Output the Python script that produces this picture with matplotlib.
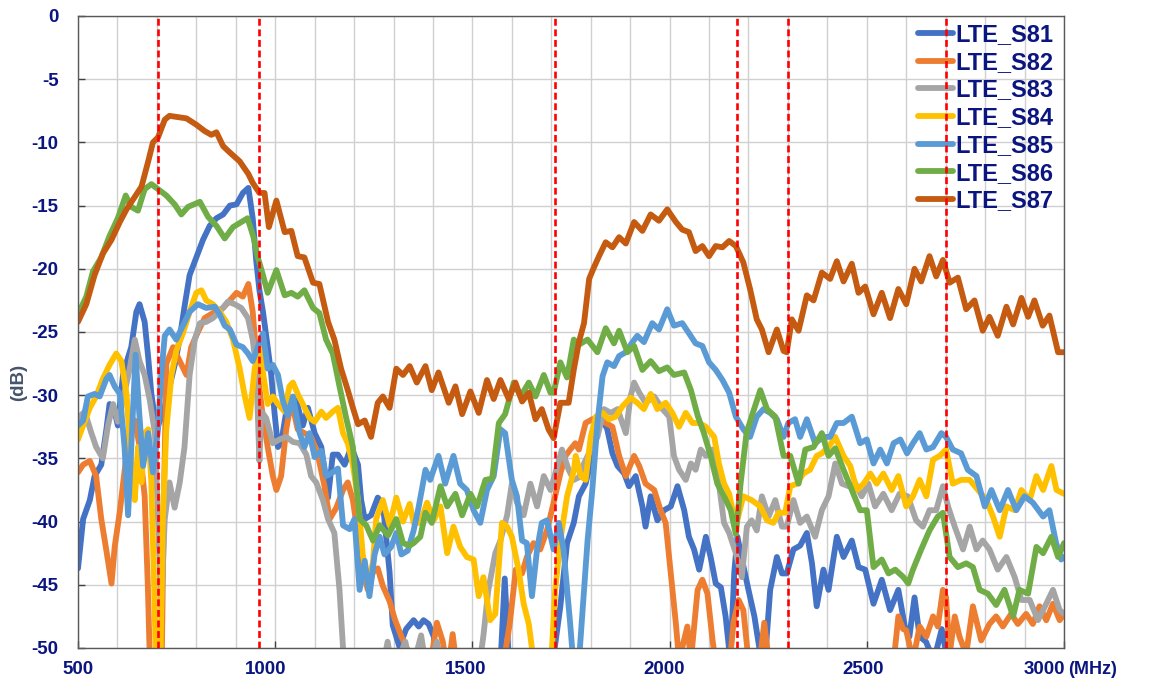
import matplotlib
matplotlib.use("Agg")
import matplotlib.pyplot as plt
from matplotlib.transforms import ScaledTranslation

plt.rcParams["font.family"] = ["Liberation Sans", "DejaVu Sans"]
plt.rcParams["font.weight"] = "bold"
plt.rcParams["axes.unicode_minus"] = False

# =========================
# Input data (MHz, dB)
# =========================

s81 = [(500, -43.7), (513, -39.8), (530, -38.3), (542, -36.4), (559, -35.5), (572, -32.7),
       (580, -30.7), (593, -31.3), (601, -32.4), (614, -28.4), (627, -27.0), (635, -26.2),
       (648, -23.4), (656, -22.8), (669, -24.2), (678, -27.0), (686, -29.9), (699, -32.7),
       (715, -31.5), (733, -29.2), (746, -27.5), (758, -25.5), (770, -23.0), (783, -20.5),
       (800, -19.1), (817, -17.7), (834, -16.6), (851, -16.0), (868, -15.7), (885, -15.0),
       (902, -14.9), (918, -14.0), (932, -13.6), (943, -16.0), (952, -19.4), (960, -21.7),
       (969, -23.4), (981, -26.2), (990, -28.4), (998, -31.3), (1007, -34.1), (1015, -33.8),
       (1028, -31.3), (1041, -30.7), (1053, -30.4), (1070, -32.4), (1083, -31.0), (1100, -33.0),
       (1117, -34.1), (1134, -38.1), (1146, -34.7), (1159, -34.7), (1176, -35.5), (1193, -34.1),
       (1210, -35.5), (1218, -38.3), (1227, -39.8), (1243, -39.5), (1260, -38.1), (1273, -38.6),
       (1290, -44.0), (1298, -48.2), (1315, -49.9), (1332, -48.5), (1351, -47.8), (1364, -48.3),
       (1376, -47.8), (1389, -48.1), (1402, -49.1), (1412, -52), (1570, -52), (1582, -44.5),
       (1594, -52), (1700, -52), (1723, -46.7), (1740, -41.7), (1757, -40.1), (1770, -38.0),
       (1787, -37.0), (1804, -34.8), (1817, -32.7), (1830, -31.9), (1842, -32.7), (1855, -34.6),
       (1868, -35.6), (1885, -36.2), (1897, -37.2), (1914, -36.4), (1931, -38.8), (1939, -40.4),
       (1952, -38.0), (1969, -39.9), (1986, -39.1), (2003, -38.8), (2020, -37.2), (2037, -39.1),
       (2049, -41.2), (2062, -42.2), (2075, -43.8), (2092, -41.2), (2104, -42.8), (2117, -44.9),
       (2130, -45.2), (2142, -47.5), (2154, -51), (2164, -44.0), (2172, -41.2), (2187, -43.5),
       (2200, -45.4), (2215, -47.5), (2230, -50.5), (2242, -51), (2255, -45.4), (2272, -42.8),
       (2285, -44.1), (2297, -44.1), (2314, -42.2), (2331, -41.9), (2348, -40.9), (2361, -43.3),
       (2373, -46.7), (2390, -43.8), (2403, -45.4), (2424, -41.2), (2441, -42.8), (2462, -41.5),
       (2479, -43.6), (2496, -43.8), (2517, -46.5), (2538, -44.6), (2559, -47.0), (2580, -45.4),
       (2597, -48.4), (2608, -49.1), (2621, -46.0), (2634, -49.1), (2650, -49.5), (2670, -51),
       (2690, -48.5), (2705, -51), (2720, -55), (3000, -55)]

s82 = [(500, -36.1), (513, -35.5), (530, -35.2), (546, -36.4), (559, -39.8), (572, -42.3),
       (585, -44.9), (593, -42.0), (606, -39.2), (618, -36.0), (631, -33.0), (644, -32.0),
       (656, -34.0), (669, -38.0), (677, -45.0), (683, -52), (700, -55), (712, -52),
       (718, -38.0), (724, -27.5), (741, -26.2), (758, -27.3), (775, -28.4), (787, -26.2),
       (804, -25.0), (821, -23.9), (842, -23.5), (868, -23.1), (885, -22.5), (902, -21.9),
       (918, -22.2), (932, -21.2), (943, -23.4), (956, -28.4), (969, -31.8), (981, -34.1),
       (994, -36.4), (1003, -37.5), (1015, -36.4), (1028, -32.7), (1041, -30.4), (1057, -32.7),
       (1074, -33.0), (1091, -33.3), (1108, -34.7), (1125, -37.2), (1138, -39.8), (1155, -38.9),
       (1172, -37.5), (1184, -36.9), (1197, -38.3), (1210, -41.1), (1222, -44.0), (1235, -45.4),
       (1248, -44.0), (1260, -43.7), (1273, -45.1), (1290, -46.3), (1303, -47.7), (1320, -49.1),
       (1341, -50.5), (1360, -52), (1395, -51), (1410, -48.0), (1425, -49.5), (1437, -52),
       (1450, -48.9), (1462, -52), (1575, -52), (1595, -48.0), (1610, -43.8), (1626, -44.1),
       (1638, -42.8), (1655, -41.7), (1672, -42.2), (1689, -40.7), (1706, -38.5), (1723, -36.2),
       (1736, -34.8), (1748, -34.3), (1761, -33.8), (1770, -34.3), (1787, -32.2), (1804, -31.9),
       (1821, -31.9), (1838, -32.2), (1855, -32.5), (1872, -34.8), (1889, -36.4), (1910, -34.8),
       (1923, -35.6), (1939, -37.0), (1961, -37.5), (1977, -39.1), (1990, -40.1), (2003, -44.1),
       (2016, -48.1), (2024, -51), (2045, -48.3), (2054, -51), (2071, -45.4), (2083, -44.6),
       (2096, -45.7), (2109, -49.4), (2120, -52), (2150, -52), (2162, -48.0), (2175, -46.2),
       (2187, -47.0), (2200, -51), (2225, -52), (2240, -48.0), (2255, -52), (2565, -52),
       (2580, -47.5), (2592, -48.5), (2600, -48.6), (2617, -51), (2634, -48.3), (2651, -49.1),
       (2668, -47.5), (2680, -48.3), (2693, -45.4), (2701, -46.0), (2710, -50.5), (2723, -47.5),
       (2735, -49.1), (2752, -50.5), (2769, -46.7), (2790, -49.4), (2811, -48.1), (2828, -47.5),
       (2845, -48.3), (2866, -47.3), (2883, -48.1), (2904, -47.3), (2921, -48.1), (2938, -46.7),
       (2955, -47.8), (2972, -46.5), (2989, -47.8), (3000, -47.3)]

s83 = [(500, -31.8), (517, -31.3), (534, -33.0), (546, -34.1), (563, -35.0), (576, -32.4),
       (589, -30.7), (601, -32.1), (614, -30.4), (631, -27.9), (644, -25.6), (656, -27.3),
       (669, -28.4), (682, -30.4), (695, -33.0), (703, -39.8), (711, -46.8), (720, -39.8),
       (732, -36.9), (745, -38.9), (758, -36.9), (770, -34.1), (783, -28.4), (796, -25.6),
       (809, -24.3), (825, -24.2), (842, -23.9), (859, -23.4), (880, -22.6), (897, -22.8),
       (914, -23.1), (931, -23.9), (943, -25.6), (952, -27.9), (960, -35.2), (965, -31.3),
       (977, -31.8), (994, -33.8), (1011, -33.5), (1028, -33.3), (1045, -33.7), (1062, -33.8),
       (1079, -34.7), (1091, -36.4), (1104, -36.9), (1121, -38.3), (1134, -39.8), (1150, -40.9),
       (1163, -45.4), (1172, -50), (1180, -52), (1270, -52), (1285, -49.5), (1298, -52),
       (1330, -49.5), (1345, -52), (1370, -49.0), (1385, -52), (1410, -49.5), (1425, -52),
       (1515, -52), (1528, -49.0), (1540, -45.5), (1558, -42.5), (1571, -41.5), (1588, -39.5),
       (1600, -37.0), (1613, -38.5), (1630, -39.5), (1647, -37.0), (1664, -38.8), (1681, -36.4),
       (1698, -37.5), (1710, -36.2), (1727, -34.3), (1744, -35.9), (1757, -36.7), (1770, -36.5),
       (1783, -35.4), (1800, -34.3), (1817, -33.3), (1834, -31.1), (1851, -31.4), (1868, -31.1),
       (1889, -33.0), (1901, -30.1), (1910, -29.0), (1923, -29.8), (1939, -30.6), (1961, -30.1),
       (1982, -31.1), (1999, -31.7), (2011, -34.8), (2024, -35.9), (2041, -36.7), (2054, -35.4),
       (2066, -35.9), (2079, -34.3), (2092, -34.8), (2109, -34.3), (2125, -37.0), (2138, -40.1),
       (2151, -40.9), (2168, -42.5), (2183, -44.4), (2196, -40.4), (2208, -39.9), (2221, -40.7),
       (2234, -38.0), (2251, -39.6), (2268, -38.3), (2285, -40.4), (2297, -40.4), (2314, -38.3),
       (2331, -40.1), (2348, -39.6), (2369, -41.2), (2386, -39.1), (2403, -38.0), (2420, -35.4),
       (2437, -37.0), (2454, -37.2), (2471, -37.0), (2487, -38.0), (2504, -37.0), (2521, -38.8),
       (2542, -37.8), (2563, -39.1), (2583, -37.8), (2604, -38.0), (2625, -39.9), (2642, -40.4),
       (2659, -39.1), (2676, -39.1), (2693, -37.2), (2706, -38.8), (2723, -40.4), (2744, -42.2),
       (2761, -40.4), (2778, -42.2), (2794, -41.5), (2811, -42.2), (2832, -43.8), (2854, -42.8),
       (2875, -44.4), (2892, -46.2), (2913, -46.2), (2934, -47.8), (2955, -46.5), (2972, -45.4),
       (2989, -47.0), (3000, -47.3)]

s84 = [(500, -33.5), (513, -32.4), (530, -31.0), (546, -30.1), (563, -28.7), (580, -27.6),
       (597, -26.7), (610, -27.3), (623, -29.9), (635, -35.5), (644, -38.3), (652, -34.1),
       (661, -36.9), (669, -33.0), (678, -32.7), (686, -36.9), (693, -45.0), (699, -53),
       (708, -53), (715, -39.8), (724, -32.7), (737, -28.4), (749, -26.5), (766, -25.1),
       (783, -23.4), (800, -21.9), (813, -21.7), (825, -22.5), (842, -22.8), (859, -23.4),
       (876, -24.2), (893, -25.6), (910, -27.9), (923, -30.1), (935, -31.8), (948, -27.9),
       (960, -26.2), (969, -28.2), (981, -30.7), (994, -30.1), (1007, -30.7), (1024, -31.3),
       (1036, -29.3), (1045, -29.0), (1057, -29.9), (1070, -30.7), (1087, -31.8), (1100, -32.1),
       (1117, -31.3), (1129, -31.8), (1146, -31.3), (1159, -31.0), (1172, -33.0), (1184, -33.8),
       (1197, -35.5), (1210, -38.3), (1222, -42.6), (1235, -44.9), (1248, -43.2), (1256, -39.8),
       (1273, -38.3), (1290, -40.3), (1307, -38.1), (1324, -40.0), (1341, -38.6), (1351, -40.1),
       (1368, -40.1), (1385, -38.5), (1402, -39.9), (1419, -38.8), (1436, -42.5), (1452, -40.4),
       (1469, -42.0), (1486, -42.8), (1503, -43.0), (1516, -45.9), (1528, -44.4), (1545, -47.8),
       (1558, -47.3), (1575, -40.1), (1588, -40.4), (1600, -41.2), (1617, -43.8), (1630, -46.5),
       (1643, -48.1), (1655, -51), (1690, -53), (1700, -51), (1710, -45.4), (1723, -41.5),
       (1740, -38.0), (1757, -36.0), (1762, -34.8), (1775, -36.4), (1787, -36.7), (1800, -33.3),
       (1813, -31.7), (1830, -31.4), (1846, -31.9), (1863, -31.7), (1880, -30.9), (1901, -30.2),
       (1918, -30.6), (1935, -31.1), (1952, -29.9), (1969, -31.1), (1990, -30.6), (2007, -31.4),
       (2024, -32.5), (2041, -31.4), (2058, -32.2), (2075, -32.2), (2092, -32.5), (2113, -33.3),
       (2125, -35.4), (2138, -37.0), (2151, -37.8), (2168, -40.3), (2187, -38.0), (2208, -38.3),
       (2230, -38.8), (2247, -39.9), (2263, -40.1), (2276, -39.3), (2293, -39.3), (2306, -37.2),
       (2323, -37.0), (2339, -36.2), (2356, -35.9), (2373, -34.8), (2386, -34.6), (2403, -34.1),
       (2420, -33.3), (2441, -34.8), (2458, -35.6), (2475, -37.5), (2492, -37.0), (2509, -36.2),
       (2525, -37.0), (2542, -36.2), (2563, -37.5), (2580, -36.4), (2600, -38.8), (2617, -38.0),
       (2634, -36.7), (2651, -38.0), (2668, -35.1), (2685, -34.8), (2701, -34.3), (2718, -37.0),
       (2739, -36.7), (2761, -36.7), (2782, -37.5), (2803, -38.3), (2820, -39.6), (2837, -41.2),
       (2854, -38.8), (2875, -39.1), (2892, -37.5), (2913, -38.3), (2930, -36.4), (2947, -37.5),
       (2968, -35.6), (2981, -37.5), (3000, -37.8)]

s85 = [(500, -32.4), (513, -32.0), (525, -30.1), (542, -29.9), (555, -30.1), (572, -28.7),
       (580, -28.4), (593, -29.3), (606, -29.9), (618, -34.1), (627, -39.5), (635, -34.1),
       (646, -26.8), (655, -31.3), (665, -35.6), (678, -33.0), (690, -36.1), (703, -32.7),
       (711, -28.4), (720, -25.3), (732, -24.8), (749, -25.6), (766, -24.5), (783, -23.4),
       (804, -22.8), (825, -23.1), (847, -23.0), (859, -23.6), (872, -24.5), (885, -24.8),
       (902, -26.0), (918, -26.2), (931, -26.7), (943, -27.3), (956, -26.2), (969, -25.1),
       (981, -27.9), (994, -27.6), (1007, -28.4), (1019, -30.4), (1032, -31.6), (1045, -30.1),
       (1062, -33.0), (1074, -34.1), (1087, -33.0), (1100, -34.9), (1117, -34.4), (1129, -36.4),
       (1146, -36.1), (1159, -35.8), (1172, -40.3), (1189, -40.6), (1201, -39.8), (1214, -45.4),
       (1227, -43.1), (1239, -45.9), (1252, -42.6), (1265, -41.2), (1277, -42.6), (1294, -42.0),
       (1307, -40.9), (1320, -42.6), (1336, -42.3), (1351, -40.7), (1364, -38.8), (1381, -35.9),
       (1393, -36.7), (1414, -34.8), (1431, -37.0), (1452, -34.8), (1469, -37.0), (1486, -37.5),
       (1503, -39.1), (1520, -40.1), (1537, -37.5), (1554, -36.4), (1571, -32.7), (1583, -33.0),
       (1600, -36.7), (1613, -38.0), (1626, -41.5), (1638, -41.7), (1651, -45.9), (1664, -42.2),
       (1676, -40.1), (1689, -39.9), (1706, -42.2), (1719, -40.1), (1731, -42.2), (1748, -48.1),
       (1758, -52), (1768, -52), (1783, -45.4), (1792, -41.5), (1804, -37.5), (1817, -32.2),
       (1830, -28.5), (1842, -27.4), (1859, -27.7), (1872, -26.9), (1889, -26.6), (1906, -25.8),
       (1918, -25.3), (1935, -25.8), (1956, -24.3), (1973, -24.8), (1994, -23.2), (2011, -24.5),
       (2032, -24.3), (2049, -25.1), (2066, -25.9), (2083, -26.1), (2100, -27.4), (2117, -28.0),
       (2134, -28.8), (2151, -29.8), (2168, -31.7), (2187, -32.7), (2204, -33.3), (2221, -31.7),
       (2238, -31.1), (2255, -31.4), (2272, -31.9), (2289, -33.3), (2301, -32.2), (2318, -31.9),
       (2331, -33.3), (2348, -31.9), (2369, -33.8), (2390, -33.3), (2407, -33.3), (2424, -32.2),
       (2441, -32.2), (2462, -31.7), (2483, -33.8), (2500, -33.5), (2517, -35.4), (2534, -34.3),
       (2551, -35.4), (2568, -33.8), (2585, -33.5), (2602, -34.6), (2617, -33.8), (2634, -33.0),
       (2651, -34.3), (2668, -34.1), (2689, -33.0), (2701, -33.3), (2718, -34.3), (2739, -34.6),
       (2756, -35.9), (2778, -36.4), (2799, -38.8), (2816, -37.5), (2837, -39.1), (2858, -37.5),
       (2879, -39.1), (2900, -38.0), (2921, -38.5), (2947, -39.6), (2963, -39.1), (2980, -41.7),
       (2993, -43.0), (3000, -42.8)]

s86 = [(500, -23.6), (521, -22.2), (538, -20.2), (559, -19.1), (580, -17.4), (601, -16.0),
       (621, -14.2), (635, -15.1), (652, -15.4), (669, -13.7), (686, -13.3), (703, -13.7),
       (724, -14.2), (745, -14.9), (762, -15.7), (779, -15.1), (809, -14.7), (830, -15.9),
       (851, -16.6), (872, -17.6), (893, -16.7), (914, -16.3), (930, -16.0), (945, -17.5),
       (955, -19.0), (969, -20.5), (981, -21.9), (1003, -20.1), (1024, -22.1), (1041, -21.9),
       (1057, -22.2), (1074, -21.7), (1096, -23.1), (1112, -23.5), (1129, -25.6), (1146, -26.7),
       (1163, -29.3), (1180, -31.8), (1197, -34.1), (1214, -39.8), (1231, -40.3), (1248, -41.5),
       (1265, -40.3), (1286, -41.1), (1307, -39.8), (1324, -41.7), (1341, -41.9), (1351, -41.7),
       (1368, -41.2), (1381, -39.3), (1397, -40.1), (1419, -37.2), (1436, -38.8), (1457, -37.8),
       (1474, -39.5), (1495, -37.8), (1512, -38.8), (1533, -36.7), (1550, -36.6), (1567, -32.2),
       (1583, -31.5), (1605, -29.0), (1622, -30.1), (1643, -29.0), (1660, -30.1), (1681, -28.4),
       (1698, -29.8), (1706, -29.8), (1723, -27.4), (1740, -28.6), (1757, -25.6), (1770, -26.0),
       (1792, -25.6), (1817, -26.6), (1838, -24.7), (1859, -25.9), (1872, -24.9), (1893, -26.6),
       (1910, -26.1), (1931, -28.0), (1952, -27.3), (1973, -28.1), (1994, -27.8), (2011, -28.4),
       (2037, -28.2), (2054, -29.6), (2071, -31.6), (2087, -33.0), (2104, -34.8), (2121, -37.0),
       (2138, -38.0), (2155, -39.1), (2168, -41.0), (2180, -37.0), (2195, -33.0), (2210, -31.5),
       (2230, -29.6), (2247, -31.1), (2268, -31.7), (2289, -34.8), (2306, -34.8), (2327, -37.0),
       (2344, -34.3), (2365, -34.1), (2386, -33.0), (2403, -34.8), (2420, -34.2), (2441, -35.9),
       (2462, -37.5), (2483, -39.1), (2500, -39.1), (2517, -43.6), (2538, -43.0), (2555, -44.1),
       (2572, -43.8), (2593, -44.4), (2605, -44.9), (2617, -43.8), (2638, -42.2), (2659, -40.7),
       (2680, -39.6), (2693, -39.3), (2710, -42.8), (2731, -43.6), (2752, -43.3), (2769, -43.6),
       (2786, -45.4), (2807, -45.7), (2828, -46.6), (2849, -45.4), (2871, -47.5), (2887, -45.4),
       (2909, -45.7), (2930, -42.0), (2947, -42.5), (2968, -41.2), (2985, -42.8), (3000, -41.7)]

s87 = [(500, -24.2), (521, -22.8), (542, -20.5), (563, -18.8), (585, -17.7), (606, -16.3),
       (623, -15.3), (644, -14.3), (661, -13.5), (678, -11.5), (690, -10.0), (703, -9.6),
       (720, -8.2), (732, -7.9), (775, -8.1), (800, -8.6), (821, -9.1), (838, -9.4),
       (851, -9.2), (868, -10.3), (885, -10.8), (910, -11.5), (932, -12.5), (943, -13.2),
       (960, -14.0), (973, -14.0), (984, -16.7), (1003, -14.6), (1024, -17.1), (1041, -17.0),
       (1057, -19.0), (1074, -19.1), (1096, -21.1), (1112, -21.2), (1134, -24.2), (1150, -25.6),
       (1167, -27.9), (1184, -29.6), (1197, -31.0), (1210, -32.3), (1227, -32.0), (1243, -33.3),
       (1260, -30.6), (1273, -30.1), (1290, -31.0), (1307, -27.9), (1324, -28.4), (1341, -27.7),
       (1359, -29.0), (1381, -27.7), (1397, -29.6), (1414, -28.2), (1440, -30.6), (1457, -29.3),
       (1474, -31.5), (1495, -29.7), (1516, -31.4), (1537, -28.8), (1554, -30.3), (1571, -28.8),
       (1592, -30.3), (1609, -29.0), (1626, -30.5), (1643, -29.8), (1660, -31.9), (1676, -31.1),
       (1693, -32.7), (1706, -33.4), (1723, -30.6), (1744, -30.6), (1757, -28.0), (1770, -25.8),
       (1783, -24.3), (1796, -20.8), (1808, -19.9), (1821, -19.0), (1838, -17.9), (1855, -18.3),
       (1872, -17.5), (1889, -18.0), (1910, -16.3), (1931, -17.0), (1952, -15.7), (1973, -16.2),
       (1994, -15.3), (2016, -16.3), (2032, -16.9), (2049, -17.1), (2066, -18.6), (2083, -18.2),
       (2100, -19.0), (2117, -18.2), (2134, -18.3), (2151, -17.8), (2168, -18.2), (2187, -19.5),
       (2204, -21.6), (2221, -24.0), (2234, -24.8), (2251, -26.6), (2272, -24.8), (2289, -26.5),
       (2297, -26.6), (2310, -24.0), (2327, -24.9), (2348, -22.1), (2365, -22.5), (2386, -20.3),
       (2407, -20.8), (2424, -19.4), (2441, -21.0), (2462, -19.6), (2479, -21.9), (2496, -21.4),
       (2517, -23.6), (2538, -21.9), (2559, -23.9), (2580, -21.6), (2600, -22.8), (2621, -20.0),
       (2638, -21.0), (2659, -19.0), (2676, -20.6), (2693, -19.3), (2710, -21.1), (2731, -20.7),
       (2752, -23.2), (2773, -22.5), (2794, -24.9), (2811, -23.8), (2832, -25.3), (2854, -23.0),
       (2871, -24.4), (2892, -22.3), (2909, -23.8), (2925, -22.5), (2946, -24.5), (2963, -23.7),
       (2985, -26.6), (3000, -26.6)]

series_names = ["LTE_S81", "LTE_S82", "LTE_S83", "LTE_S84", "LTE_S85", "LTE_S86", "LTE_S87"]
series_data = [s81, s82, s83, s84, s85, s86, s87]
series_colors = ["#4472C4", "#ED7D31", "#A5A5A5", "#FFC000", "#5B9BD5", "#70AD47", "#C55A11"]

# band edges (MHz)
band_edges = [703, 960, 1710, 2170, 2300, 2700]

# =========================
# Plot
# =========================
navy = "#0A1580"

fig = plt.figure(figsize=(11.51, 6.91), dpi=100)
ax = fig.add_axes([78 / 1151, 1 - 648 / 691, 986 / 1151, 632 / 691])

for name, pts, col in zip(series_names, series_data, series_colors):
    f = [p[0] for p in pts]
    v = [p[1] for p in pts]
    ax.plot(f, v, color=col, linewidth=4.2, solid_joinstyle="round",
            solid_capstyle="round", label=name)

for fe in band_edges:
    ax.axvline(fe, color="#FF0000", linewidth=1.9, linestyle=(0, (2.6, 1.4)), zorder=10)

ax.set_xlim(500, 3000)
ax.set_ylim(-50, 0)
ax.set_xticks(range(500, 3001, 500))
ax.set_xticks(range(500, 3001, 100), minor=True)
ax.set_yticks(range(-50, 1, 5))

ax.grid(True, which="both", axis="x", color="#D0D0D0", linewidth=1.0)
ax.grid(True, which="major", axis="y", color="#D0D0D0", linewidth=1.0)
ax.set_axisbelow(True)

ax.tick_params(axis="both", which="major", direction="in", length=5, width=1,
               colors="#404040", labelcolor=navy, labelsize=13.5)
ax.tick_params(axis="y", which="major", pad=14)
ax.tick_params(axis="x", which="major", pad=9)
ax.tick_params(axis="x", which="minor", length=0)
for lab in ax.get_xticklabels() + ax.get_yticklabels():
    lab.set_fontweight("bold")

# x labels in the original sit a little left of their ticks
label_shift_px = [0, -10, -7, -5, -4, -20]
for lab, dx in zip(ax.get_xticklabels(), label_shift_px):
    lab.set_transform(lab.get_transform() + ScaledTranslation(dx / 100, 0, fig.dpi_scale_trans))

for sp in ax.spines.values():
    sp.set_color("#595959")
    sp.set_linewidth(1.0)

fig.text(1068 / 1151, 1 - 670 / 691, "(MHz)", ha="left", va="center",
         fontsize=13, fontweight="bold", color=navy)
fig.text(19 / 1151, 1 - 382 / 691, "(dB)", ha="center", va="center", rotation=90,
         fontsize=13.5, fontweight="bold", color="#44546A")

leg = ax.legend(loc="upper right", bbox_to_anchor=(0.997, 1.0), frameon=False,
                prop={"size": 17, "weight": "bold"}, labelcolor=navy,
                handlelength=1.5, handletextpad=0.1, labelspacing=0.2,
                borderaxespad=0.2, borderpad=0.1)

fig.savefig("out.png", dpi=100)
